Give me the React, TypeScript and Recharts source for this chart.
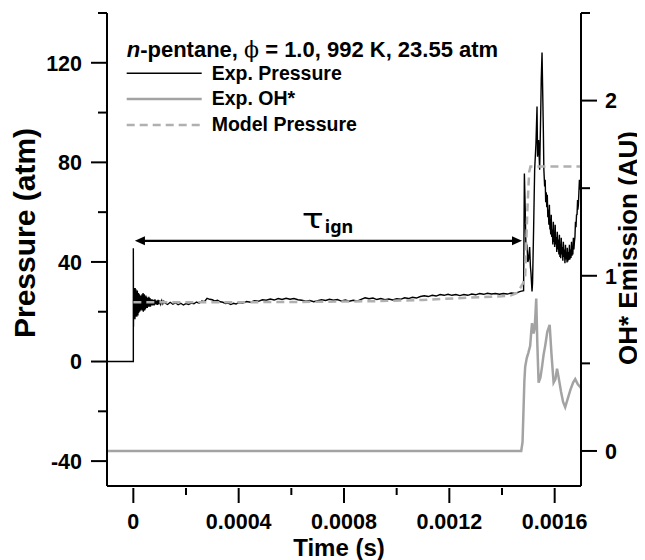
import React from 'react';
import { ComposedChart, Line, XAxis, YAxis, ReferenceLine, ReferenceDot, Legend } from 'recharts';

// all times in microseconds, converted to seconds below
// experimental pressure trace (atm)
const EXP_PRESSURE: [number, number][] = [
  [-100, 0], [0, 0], [0, 45.5], [0.6, 14], [1.2, 27], [2, 18], [2.7, 29.5], [3.4, 17.5], [4.1, 29], [4.8, 18.5],
  [5.5, 28.5], [6.2, 17], [6.9, 29.5], [7.6, 18], [8.3, 28], [9, 19], [9.7, 29], [10.4, 18.5], [11.1, 27.5],
  [11.8, 19.5], [12.5, 28], [13.2, 18], [13.9, 27], [14.6, 19], [15.3, 28.5], [16, 19.5], [16.7, 27], [17.4, 18.5],
  [18.1, 26.5], [18.8, 20], [19.5, 27.5], [20.2, 19.5], [21, 26], [22, 20.5], [23, 27], [24, 20], [25, 26],
  [26, 21], [27, 26.5], [28, 20.5], [29, 25.5], [30, 21.5], [31, 26.5], [32, 21], [33, 27], [34, 20.5], [35, 26.5],
  [36, 21], [37, 27.5], [38, 20], [39, 26.5], [40, 21.5], [41.5, 27], [43, 20.5], [44.5, 26], [46, 21], [47.5, 26.5],
  [49, 21.5], [51, 26], [53, 21.5], [55, 25.5], [57, 22], [59, 26], [61, 22], [63, 25.5], [65, 22], [67, 25],
  [69, 22.5], [71, 25], [73, 22.5], [76, 24.8], [79, 22.5], [82, 25], [85, 23], [88, 24.5], [91, 22.8], [94, 24.8],
  [97, 23], [100, 24.5], [104, 23], [108, 24.5], [112, 23.2], [116, 24.2],
  [120, 23.5], [130, 22.9], [140, 23.8], [150, 23.0], [160, 23.6], [170, 22.8], [180, 23.4], [190, 22.7],
  [200, 23.3], [210, 22.9], [220, 23.5], [230, 23.2], [240, 23.9], [250, 23.4], [260, 24.3], [270, 24.0],
  [280, 25.4], [290, 25.0], [300, 24.8], [310, 24.3], [320, 24.6], [330, 24.0], [340, 23.8], [350, 23.3],
  [360, 23.5], [370, 22.9], [380, 23.4], [390, 23.1], [400, 23.7], [415, 23.5], [430, 24.1], [445, 23.8],
  [460, 24.4], [475, 24.2], [490, 24.8], [505, 24.6], [520, 25.1], [535, 24.7], [550, 25.3], [565, 24.9],
  [580, 25.4], [595, 25.0], [610, 25.3], [625, 24.8], [640, 24.6], [655, 24.2], [670, 24.5], [685, 24.0],
  [700, 24.4], [715, 24.8], [730, 24.5], [745, 25.0], [760, 24.6], [775, 24.9], [790, 24.3], [805, 24.7],
  [820, 24.2], [835, 24.6], [850, 24.3], [865, 25.0], [880, 25.6], [895, 25.2], [910, 25.5], [925, 24.9],
  [940, 25.3], [955, 24.8], [970, 25.1], [985, 24.7], [1000, 25.2], [1015, 25.0], [1030, 25.6], [1045, 25.3],
  [1060, 25.8], [1075, 25.5], [1090, 26.1], [1105, 26.4], [1120, 26.1], [1135, 26.6], [1150, 26.3], [1165, 26.9],
  [1180, 26.6], [1195, 27.0], [1210, 26.6], [1225, 26.9], [1240, 26.5], [1255, 26.9], [1270, 26.6], [1285, 27.1],
  [1300, 26.8], [1315, 27.3], [1330, 27.0], [1345, 27.4], [1360, 27.1], [1375, 27.3], [1390, 27.0], [1405, 27.3],
  [1420, 27.1], [1435, 27.5], [1450, 27.3], [1460, 27.8], [1470, 28.2], [1482, 28.5],
  [1485, 75.5], [1488, 62], [1491, 45], [1495, 47], [1498, 40], [1501, 41], [1505, 46], [1508, 38],
  [1510, 35.6], [1514, 28.1], [1516, 31.5], [1520, 52.9], [1524, 77], [1529, 87.7], [1533, 102.4],
  [1535, 82.3], [1539, 89], [1543, 77], [1547, 99.8], [1549, 113.1], [1552, 124.1], [1554, 111.8],
  [1557, 93.1], [1559, 77], [1562, 70.3], [1564, 73], [1566, 64], [1568, 68], [1570, 62], [1572, 67],
  [1574, 58], [1576, 61], [1578, 55], [1580, 63], [1582, 53], [1583, 57], [1585, 51], [1587, 59],
  [1589, 50], [1591, 53], [1593, 47], [1595, 56.1], [1597, 48], [1599, 52], [1600, 46], [1602, 54.9],
  [1604, 47], [1606, 50], [1608, 44], [1610, 52.1], [1612, 45], [1614, 49], [1616, 43], [1618, 50.9],
  [1620, 42], [1621, 47], [1623, 41.5], [1625, 49.7], [1627, 43], [1629, 46], [1631, 40.5], [1633, 48.1],
  [1635, 42], [1637, 45], [1639, 39.5], [1641, 46.9], [1643, 41], [1645, 44], [1647, 39.8], [1648, 45.7],
  [1650, 40.2], [1652, 44], [1654, 40.8], [1656, 46.9], [1658, 41], [1660, 45], [1662, 41.6], [1664, 48.1],
  [1666, 42.5], [1667, 46], [1669, 43], [1671, 49.7], [1673, 45], [1675, 48], [1677, 50], [1679, 56.1],
  [1681, 54], [1683, 58.9], [1685, 59], [1687, 64.9], [1688, 61], [1690, 62.9], [1692, 68], [1694, 73],
  [1696, 69], [1699, 72],
];

// experimental OH* emission (AU)
const EXP_OH: [number, number][] = [
  [-100, 0], [300, 0], [700, 0], [1100, 0], [1473, 0], [1478, 0.05], [1482, 0.25], [1485, 0.4], [1488, 0.48],
  [1494, 0.53], [1500, 0.56], [1507, 0.6], [1511, 0.68], [1514, 0.73], [1520, 0.67], [1524, 0.7], [1527, 0.78],
  [1530, 0.87], [1534, 0.62], [1539, 0.39], [1546, 0.42], [1552, 0.48], [1558, 0.55], [1564, 0.6], [1572, 0.68],
  [1581, 0.72], [1588, 0.55], [1596, 0.39], [1603, 0.41], [1609, 0.47], [1615, 0.42], [1624, 0.34], [1632, 0.28],
  [1640, 0.25], [1650, 0.3], [1660, 0.35], [1670, 0.39], [1678, 0.41], [1688, 0.38], [1700, 0.36],
];

// model pressure (atm)
const MODEL_PRESSURE: [number, number][] = [
  [0, 23.8], [300, 23.8], [600, 23.9], [900, 24.2], [1100, 24.7], [1279, 25.7], [1400, 26.2], [1432, 26.5],
  [1457, 27.5], [1469, 29.5], [1480, 31.5], [1488, 34], [1496, 60], [1503, 76], [1508, 78.3], [1700, 78.3],
];

const TIME_TICKS = [0, 0.0002, 0.0004, 0.0006, 0.0008, 0.001, 0.0012, 0.0014, 0.0016];
const TIME_LABELS = ['0', '', '0.0004', '', '0.0008', '', '0.0012', '', '0.0016'];
const PRESSURE_TICKS = [-40, -20, 0, 20, 40, 60, 80, 100, 120, 140];
const OH_TICKS = [0, 0.5, 1, 1.5, 2, 2.5];

// ignition delay arrow (s, atm)
const ARROW_START = 0.000006;
const ARROW_END = 0.001476;
const ARROW_LEVEL = 48.5;
const TAU_X = 0.00064;

const FONT = '"Liberation Sans", Arial, Helvetica, sans-serif';
const OH_GRAY = '#a3a3a3';
const MODEL_GRAY = '#b0b0b0';

const toRows = (arr: [number, number][]) => arr.map(([t, v]) => ({ t: t / 1e6, v }));

const pressureData = toRows(EXP_PRESSURE);
const ohData = toRows(EXP_OH);
const modelData = toRows(MODEL_PRESSURE);

const LeftTick = (props: any) => {
  const { x, y, payload } = props;
  const major = payload.value % 40 === 0;
  return (
    <g>
      <line x1={x - (major ? 16 : 9)} x2={x} y1={y} y2={y} stroke="#000" strokeWidth={2} />
      {major && (
        <text x={x - 25} y={y} dy="0.36em" textAnchor="end" fontFamily={FONT} fontWeight="bold" fontSize={21.5} fill="#000">
          {payload.value}
        </text>
      )}
    </g>
  );
};

const RightTick = (props: any) => {
  const { x, y, payload } = props;
  const major = Number.isInteger(payload.value);
  return (
    <g>
      <line x1={x} x2={x + (major ? 16 : 9)} y1={y} y2={y} stroke="#000" strokeWidth={2} />
      {major && (
        <text x={x + 24} y={y} dy="0.36em" textAnchor="start" fontFamily={FONT} fontWeight="bold" fontSize={21.5} fill="#000">
          {payload.value}
        </text>
      )}
    </g>
  );
};

const BottomTick = (props: any) => {
  const { x, y, index } = props;
  const label = TIME_LABELS[index] ?? '';
  const major = label !== '';
  return (
    <g>
      <line x1={x} x2={x} y1={y + 2} y2={y + (major ? 17 : 9)} stroke="#000" strokeWidth={2} />
      {major && (
        <text x={x} y={y + 35.5} dy="0.36em" textAnchor="middle" fontFamily={FONT} fontWeight="bold" fontSize={21.5} fill="#000">
          {label}
        </text>
      )}
    </g>
  );
};

const ArrowShape = (props: any) => {
  const { x1, y1, x2 } = props;
  const head = 10;
  const half = 4.5;
  return (
    <g>
      <line x1={x1 + head - 1} x2={x2 - head + 1} y1={y1} y2={y1} stroke="#000" strokeWidth={2.2} />
      <polygon points={`${x1},${y1} ${x1 + head},${y1 - half} ${x1 + head},${y1 + half}`} fill="#000" />
      <polygon points={`${x2},${y1} ${x2 - head},${y1 - half} ${x2 - head},${y1 + half}`} fill="#000" />
    </g>
  );
};

const TauLabel = (props: any) => {
  const { cx, cy } = props;
  return (
    <g>
      <text x={cx} y={cy - 12.4} fontFamily='"DejaVu Sans", "Noto Sans", sans-serif' fontSize={27} fill="#000"
        textLength={22} lengthAdjust="spacingAndGlyphs">τ</text>
      <text x={cx + 23} y={cy - 8} fontFamily='"Noto Sans", "DejaVu Sans", sans-serif' fontWeight="bold" fontSize={18} fill="#000">ign</text>
    </g>
  );
};

const LegendBox = () => (
  <svg width={520} height={140} style={{ display: 'block', pointerEvents: 'none' }}>
    <text x={118.7} y={48.7} fontFamily={FONT} fontWeight="bold" fontSize={22} fill="#000">
      <tspan fontStyle="italic">n</tspan>-pentane,{' '}
      <tspan fontFamily='"DejaVu Serif", "Liberation Serif", serif' fontWeight="normal">ϕ</tspan> = 1.0, 992 K, 23.55 atm
    </text>
    <line x1={118.7} x2={193.7} y1={65.3} y2={65.3} stroke="#000" strokeWidth={1.5} />
    <text x={203.7} y={72} fontFamily={FONT} fontWeight="bold" fontSize={19.5} fill="#000">Exp. Pressure</text>
    <line x1={118.7} x2={193.7} y1={91} y2={91} stroke={OH_GRAY} strokeWidth={2.5} />
    <text x={203.7} y={97} fontFamily={FONT} fontWeight="bold" fontSize={19.5} fill="#000">Exp. OH*</text>
    <line x1={118.7} x2={193.7} y1={117} y2={117} stroke={MODEL_GRAY} strokeWidth={2.5} strokeDasharray="8 5" />
    <text x={203.7} y={123} fontFamily={FONT} fontWeight="bold" fontSize={19.5} fill="#000">Model Pressure</text>
  </svg>
);

const LeftTitle = () => (
  <text x={26.7} y={225} transform="rotate(-90, 26.7, 225)" textAnchor="middle" fontFamily={FONT} fontWeight="bold" fontSize={30} fill="#000">
    Pressure (atm)
  </text>
);

const RightTitle = () => (
  <text x={628.5} y={240} transform="rotate(-90, 628.5, 240)" textAnchor="middle" fontFamily={FONT} fontWeight="bold" fontSize={26} fill="#000">
    OH* Emission (AU)
  </text>
);

const BottomTitle = () => (
  <text x={331} y={548} textAnchor="middle" fontFamily={FONT} fontWeight="bold" fontSize={24} fill="#000">
    Time (s)
  </text>
);

const App: React.FC = () => {
  return (
    <div style={{ width: 637, height: 552 }}>
      <ComposedChart width={637} height={552} margin={{ top: 5, right: 0, bottom: 0, left: 0 }}>
        <XAxis
          dataKey="t"
          type="number"
          domain={[-0.0001, 0.0017]}
          allowDataOverflow
          ticks={TIME_TICKS}
          interval={0}
          tick={<BottomTick />}
          tickLine={false}
          tickSize={0}
          tickMargin={0}
          height={74}
          axisLine={{ stroke: '#000', strokeWidth: 2 }}
          label={<BottomTitle />}
        />
        <YAxis
          yAxisId="left"
          type="number"
          domain={[-50, 140]}
          allowDataOverflow
          ticks={PRESSURE_TICKS}
          interval={0}
          tick={<LeftTick />}
          tickLine={false}
          tickSize={0}
          tickMargin={0}
          width={99}
          axisLine={{ stroke: '#000', strokeWidth: 2 }}
          label={<LeftTitle />}
        />
        <YAxis
          yAxisId="right"
          orientation="right"
          type="number"
          domain={[-0.2, 2.5]}
          allowDataOverflow
          ticks={OH_TICKS}
          interval={0}
          tick={<RightTick />}
          tickLine={false}
          tickSize={0}
          tickMargin={0}
          width={64}
          axisLine={{ stroke: '#000', strokeWidth: 2 }}
          label={<RightTitle />}
        />
        <Legend verticalAlign="middle" align="center" layout="horizontal" content={<LegendBox />}
          wrapperStyle={{ top: 0, left: 0, width: 520, height: 140 }} />
        <Line yAxisId="left" data={pressureData} dataKey="v" type="linear" stroke="#000" strokeWidth={1.4}
          dot={false} activeDot={false} isAnimationActive={false} />
        <Line yAxisId="right" data={ohData} dataKey="v" type="linear" stroke={OH_GRAY} strokeWidth={2.5}
          dot={false} activeDot={false} isAnimationActive={false} />
        <Line yAxisId="left" data={modelData} dataKey="v" type="linear" stroke={MODEL_GRAY} strokeWidth={2.5}
          strokeDasharray="8 5" dot={false} activeDot={false} isAnimationActive={false} />
        <ReferenceLine yAxisId="left" segment={[{ x: ARROW_START, y: ARROW_LEVEL }, { x: ARROW_END, y: ARROW_LEVEL }]}
          shape={ArrowShape} />
        <ReferenceDot yAxisId="left" x={TAU_X} y={ARROW_LEVEL} r={0} shape={TauLabel} />
      </ComposedChart>
    </div>
  );
};

export default App;
